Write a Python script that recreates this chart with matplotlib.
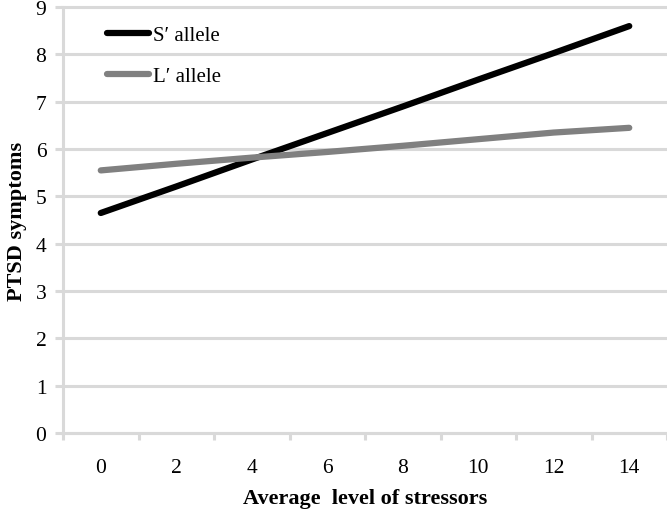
import matplotlib.pyplot as plt
import numpy as np

# --- dados ---
stress_levels = [0, 2, 4, 6, 8, 10, 12, 14]
s_allele = [4.65, 5.21, 5.78, 6.34, 6.90, 7.47, 8.03, 8.60]
l_allele = [5.55, 5.69, 5.82, 5.94, 6.07, 6.21, 6.35, 6.45]
y_ticks = list(range(0, 10))

grid_col = '#d9d9d9'
plt.rcParams['font.family'] = ['Liberation Serif', 'DejaVu Serif']

fig = plt.figure(figsize=(6.67, 5.10), dpi=100)
ax = fig.add_axes([0.0945, 0.149, 0.9055, 0.835])

x = np.arange(len(stress_levels))
ax.plot(x, s_allele, color='black', linewidth=4.5, solid_capstyle='round', label="S\u2032 allele", zorder=3)
ax.plot(x, l_allele, color='#808080', linewidth=4.5, solid_capstyle='round', label="L\u2032 allele", zorder=3)

ax.set_xlim(-0.5, len(x) - 0.5)
ax.set_ylim(0, 9)
ax.set_yticks(y_ticks)
ax.set_xticks(x)
ax.set_xticklabels([str(v) for v in stress_levels])
ax.set_xticks(np.arange(-0.5, len(x), 1), minor=True)

ax.grid(axis='y', color=grid_col, linewidth=2.2)
for gl in ax.get_ygridlines():
    gl.set_clip_on(False)
ax.set_axisbelow(True)

for s in ['top', 'right']:
    ax.spines[s].set_visible(False)
ax.spines['left'].set_color(grid_col)
ax.spines['left'].set_linewidth(2.2)
ax.spines['bottom'].set_color(grid_col)
ax.spines['bottom'].set_linewidth(2.2)

ax.tick_params(axis='y', length=6, width=2.2, color=grid_col, labelsize=15.5, pad=6)
ax.tick_params(axis='x', which='major', length=0, labelsize=15.5, pad=18)
ax.tick_params(axis='x', which='minor', length=5, width=2.2, color=grid_col)

ax.set_xlabel('Average  level of stressors', fontsize=16, fontweight='bold', labelpad=8)
ax.set_ylabel('PTSD symptoms', fontsize=16, fontweight='bold', labelpad=6)

leg = ax.legend(loc='upper left', bbox_to_anchor=(0.042, 1.0), frameon=False,
                fontsize=15, handlelength=2.0, handletextpad=0.2, labelspacing=1.0)

fig.savefig('out.png', dpi=100)
